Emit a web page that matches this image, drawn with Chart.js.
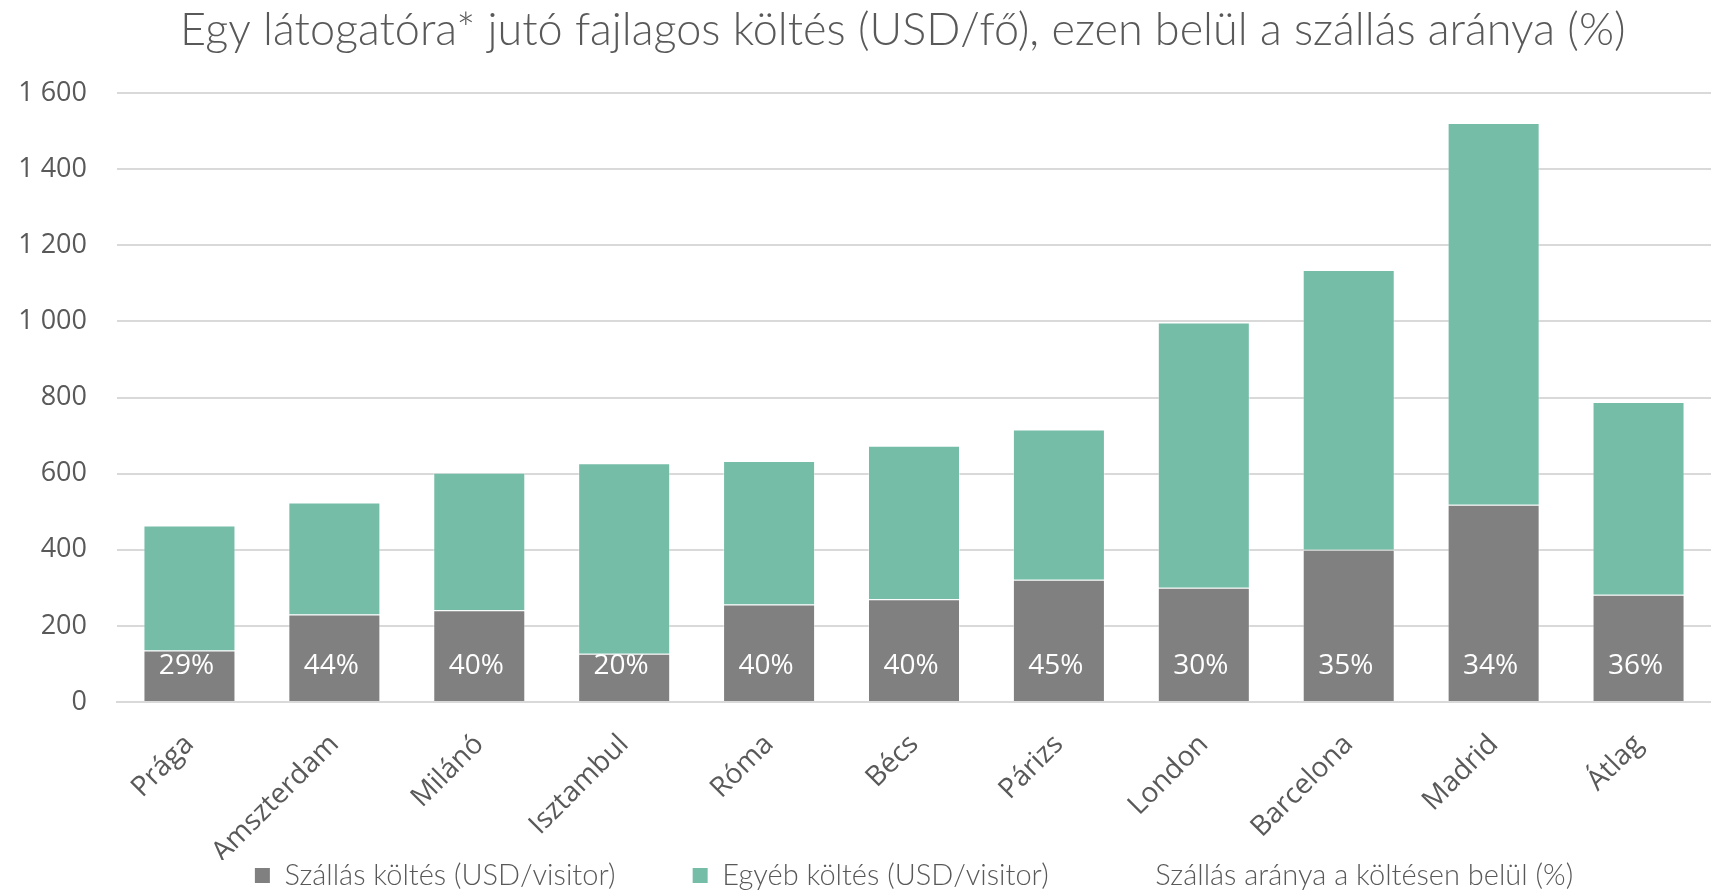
<!DOCTYPE html>
<html>
<head>
<meta charset="utf-8">
<script src="https://cdn.jsdelivr.net/npm/chart.js@4.4.1/dist/chart.umd.min.js"></script>
<style>
  html, body { margin: 0; padding: 0; background: #fff; }
  #wrap { width: 1711px; height: 890px; position: relative; }
</style>
</head>
<body>
<div id="wrap"><canvas id="spendChart"></canvas></div>
<script>
const cities = ['Prága', 'Amszterdam', 'Milánó', 'Isztambul', 'Róma', 'Bécs', 'Párizs', 'London', 'Barcelona', 'Madrid', 'Átlag'];
const lodging = [135, 230, 241, 127, 256, 270, 321, 300, 400, 518, 282];
const otherSpend = [329, 294, 361, 500, 377, 403, 395, 697, 735, 1003, 506];
const lodgingShare = [29, 44, 40, 20, 40, 40, 45, 30, 35, 34, 36];
const yTicks = [0, 200, 400, 600, 800, 1000, 1200, 1400, 1600];

const labelFont = "Lato, sans-serif";
const tickFont = "'Open Sans', sans-serif";

// percentage labels written inside the grey bars
const shareLabels = {
  id: 'shareLabels',
  afterDatasetsDraw(chart) {
    const meta = chart.getDatasetMeta(0);
    const y0 = chart.scales.y.getPixelForValue(0);
    const ctx = chart.ctx;
    ctx.save();
    ctx.fillStyle = '#ffffff';
    ctx.font = "28px " + tickFont;
    ctx.textAlign = 'center';
    ctx.textBaseline = 'middle';
    meta.data.forEach((bar, i) => {
      ctx.fillText(lodgingShare[i] + '%', bar.x - 3, y0 - 36);
    });
    ctx.restore();
  }
};

const spendChart = document.getElementById('spendChart');

new Chart(spendChart, {
  type: 'bar',
  data: {
    labels: cities,
    datasets: [{
      label: 'Szállás költés (USD/visitor)',
      data: lodging,
      backgroundColor: '#808080',
      borderColor: 'rgba(255,255,255,0.35)',
      borderWidth: 1,
      stack: 's'
    }, {
      label: 'Egyéb költés (USD/visitor)',
      data: otherSpend,
      backgroundColor: '#76bda7',
      borderColor: 'rgba(255,255,255,0.35)',
      borderWidth: 1,
      stack: 's'
    }, {
      type: 'line',
      label: 'Szállás aránya a költésen belül (%)',
      data: lodgingShare,
      yAxisID: 'y2',
      showLine: false,
      pointRadius: 0,
      backgroundColor: 'transparent',
      borderColor: 'transparent'
    }]
  },
  options: {
    responsive: true,
    maintainAspectRatio: false,
    animation: false,
    layout: { padding: { left: 0, right: 0, top: 0, bottom: -10 } },
    datasets: {
      bar: { categoryPercentage: 1, barPercentage: 0.635 }
    },
    scales: {
      x: {
        stacked: true,
        grid: { display: false },
        border: { color: '#d9d9d9', width: 2 },
        afterFit(axis) { axis.height = 158; },
        ticks: {
          color: '#595959',
          font: { family: tickFont, size: 28 },
          minRotation: 45,
          maxRotation: 45,
          autoSkip: false,
          padding: 18
        }
      },
      y: {
        stacked: true,
        min: 0,
        max: 1600,
        afterBuildTicks(axis) {
          axis.ticks = yTicks.map(v => ({ value: v }));
        },
        afterFit(axis) { axis.width = 117; },
        grid: { color: '#d9d9d9', lineWidth: 2, drawTicks: false },
        border: { display: false },
        ticks: {
          color: '#595959',
          font: { family: tickFont, size: 27 },
          padding: 30,
          callback: v => String(v).replace(/\B(?=(\d{3})+(?!\d))/g, ' ')
        }
      },
      y2: { display: false, min: 0, max: 100 }
    },
    plugins: {
      title: {
        display: true,
        text: 'Egy látogatóra* jutó fajlagos költés (USD/fő), ezen belül a szállás aránya (%)\u2002',
        color: '#595959',
        fullSize: false,
        font: { family: labelFont, size: 45, weight: 300 },
        padding: { top: 3, bottom: 36 }
      },
      legend: {
        position: 'bottom',
        fullSize: false,
        labels: {
          color: '#595959',
          font: { family: labelFont, size: 29, weight: 300 },
          boxWidth: 15,
          boxHeight: 15,
          padding: 1,
          generateLabels(chart) {
            const items = Chart.defaults.plugins.legend.labels.generateLabels(chart);
            items.forEach((it, i) => {
              it.lineWidth = 0;
              if (i < items.length - 1) it.text = it.text + '\u2003\u2003\u2002\u2002\u2009';
            });
            return items;
          }
        }
      },
      tooltip: { enabled: false }
    }
  },
  plugins: [shareLabels]
});
</script>
</body>
</html>
